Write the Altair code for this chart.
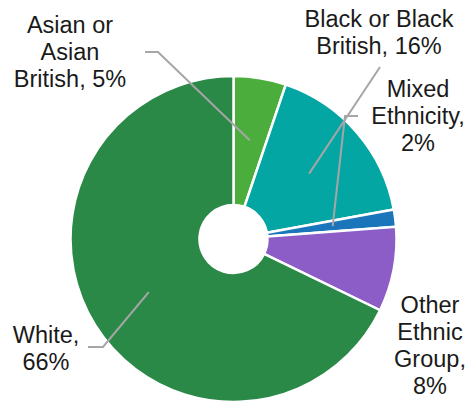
import math
import altair as alt
import pandas as pd

# ---- data ----
categories = ["Asian or Asian British", "Black or Black British", "Mixed Ethnicity",
              "Other Ethnic Group", "White"]
values = [5.2, 16.9, 1.7, 8.4, 67.8]
label_lines = [
    ["Asian or", "Asian", "British, 5%"],
    ["Black or Black", "British, 16%"],
    ["Mixed", "Ethnicity,", "2%"],
    ["Other", "Ethnic", "Group,", "8%"],
    ["White,", "66%"],
]
colors = ["#4BAE3C", "#03A6A3", "#1B75BB", "#8C5DC6", "#2B8948"]

# ---- layout ----
W, H = 467, 402
CX, CY = 233.5, 239
R_OUT, R_IN = 163, 34
R_LEAD = 100
label_pos = [(70, 33), (379, 27), (418, 97), (430, 313), (46, 343)]
leader_start = [[(145, 52), (158, 52)], [(380, 67)], [(358, 116), (345, 116)], None,
                [(88, 347), (103, 347)]]

pie = pd.DataFrame({"category": categories, "value": values, "idx": range(len(values))})

arcs = alt.Chart(pie).mark_arc(
    outerRadius=R_OUT, innerRadius=R_IN, stroke="white", strokeWidth=2.5
).encode(
    theta=alt.Theta("value:Q", stack=True),
    color=alt.Color("category:N", scale=alt.Scale(domain=categories, range=colors), legend=None),
    order=alt.Order("idx:Q"),
    x=alt.value(CX),
    y=alt.value(CY),
)

# leader lines: end at the mid-angle of each slice
total = sum(values)
rows = []
cum = 0.0
for i, v in enumerate(values):
    mid = (cum + v / 2) / total * 2 * math.pi
    cum += v
    pts = leader_start[i]
    if pts is None:
        continue
    ex = CX + R_LEAD * math.sin(mid)
    ey = CY - R_LEAD * math.cos(mid)
    allpts = list(pts) + [(ex, ey)]
    for k, (px, py) in enumerate(allpts):
        rows.append({"id": i, "ord": k, "x": px, "y": py})
leaders = alt.Chart(pd.DataFrame(rows)).mark_line(color="#A6A6A6", strokeWidth=2).encode(
    x=alt.X("x:Q", scale=None),
    y=alt.Y("y:Q", scale=None),
    detail="id:N",
    order="ord:Q",
)

text_vals = [{"lines": label_lines[i], "x": label_pos[i][0], "y": label_pos[i][1]}
             for i in range(len(categories))]
labels = alt.Chart(alt.Data(values=text_vals)).mark_text(
    font="Liberation Sans", fontSize=23.5, lineHeight=27, align="center",
    baseline="alphabetic", color="#1a1a1a"
).encode(
    x=alt.X("x:Q", scale=None),
    y=alt.Y("y:Q", scale=None),
    text="lines:N",
)

chart = alt.layer(arcs, leaders, labels).properties(
    width=W, height=H, padding=0, autosize="none", background="white"
).configure_view(strokeWidth=0)

chart.save("out.html", embed_options={"renderer": "svg", "actions": False})
